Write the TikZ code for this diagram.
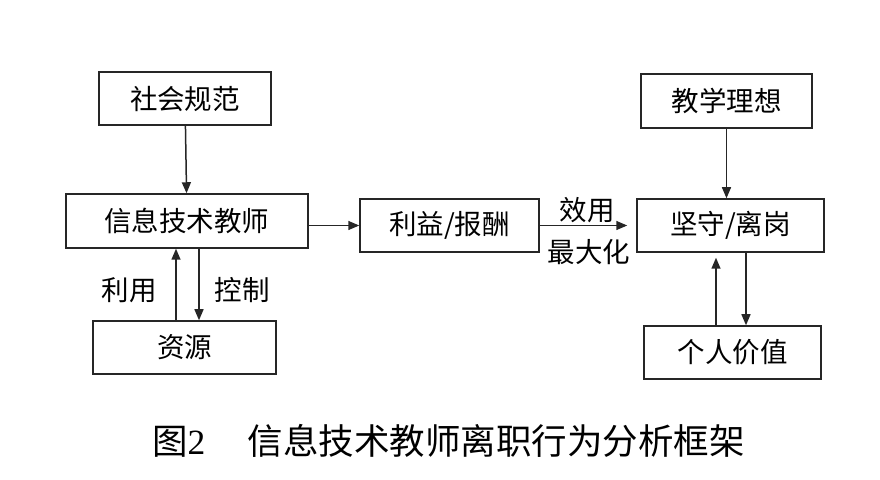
\documentclass[tikz,border=0pt]{standalone}
\usepackage{fontspec}
\setmainfont{Noto Sans CJK SC}
\newfontfamily\numfont{Liberation Serif}
\usetikzlibrary{arrows.meta}
\tikzset{
  box/.style={draw=black!85, line width=0.75pt, minimum width=#1, minimum height=26.5pt,
    inner sep=0pt, font=\fontsize{13.75}{16}\selectfont},
  lbl/.style={inner sep=0pt, font=\fontsize{13.75}{16}\selectfont},
  arr/.style={draw=black!85, line width=0.75pt, -{Triangle[length=5.5pt,width=4.5pt]}}
}
\begin{document}
\begin{tikzpicture}[x=0.5pt,y=-0.5pt]
  \useasboundingbox (0,0) rectangle (880,480);
  % left column
  \node (shehui) at (185,98.5) [box=86pt] {社会规范};
  \node (xinxi) at (187,221) [box=121pt, minimum height=27pt] {信息技术教师};
  \node (ziyuan) at (184.5,347.5) [box=91.5pt] {资源};
  % middle
  \node (liyi) at (449.5,225.5) [box=89.5pt] {利益/报酬};
  % right column
  \node (jiaoxue) at (726.5,101) [box=85.5pt, minimum height=27pt] {教学理想};
  \node (jianshou) at (730.5,225.5) [box=93.5pt] {坚守/离岗};
  \node (geren) at (732.5,352.5) [box=88.5pt] {个人价值};
  % labels
  \node (liyong) at (129,290) [lbl] {利用};
  \node (kongzhi) at (242,290) [lbl] {控制};
  \node (xiaoyong) at (587,210) [lbl] {效用};
  \node (zuidahua) at (589,252) [lbl] {最大化};
  % connectors
  \draw[arr] (shehui) -- (xinxi);
  \draw[arr] ([xshift=-4.25pt]ziyuan.north) -- ([xshift=-4.25pt]ziyuan.north |- xinxi.south);
  \draw[arr] ([xshift=6pt]xinxi.south) -- ([xshift=6pt]xinxi.south |- ziyuan.north);
  \draw[arr] (xinxi.east |- liyi.west) -- (liyi.west);
  \draw[arr, shorten >=4.5pt] (liyi.east) -- (jianshou.west);
  \draw[arr] (jiaoxue) -- (jiaoxue |- jianshou.north);
  \draw[arr, shorten >=2.5pt] ([xshift=-8.25pt]geren.north) -- ([xshift=-8.25pt]geren.north |- jianshou.south);
  \draw[arr] ([xshift=7.75pt]jianshou.south) -- ([xshift=7.75pt]jianshou.south |- geren.north);
  % caption
  \node (caption) at (448.5,441) [inner sep=0pt, font=\fontsize{17.75}{20}\selectfont] {图{\numfont 2}\hspace{1.2em}信息技术教师离职行为分析框架};
\end{tikzpicture}
\end{document}
